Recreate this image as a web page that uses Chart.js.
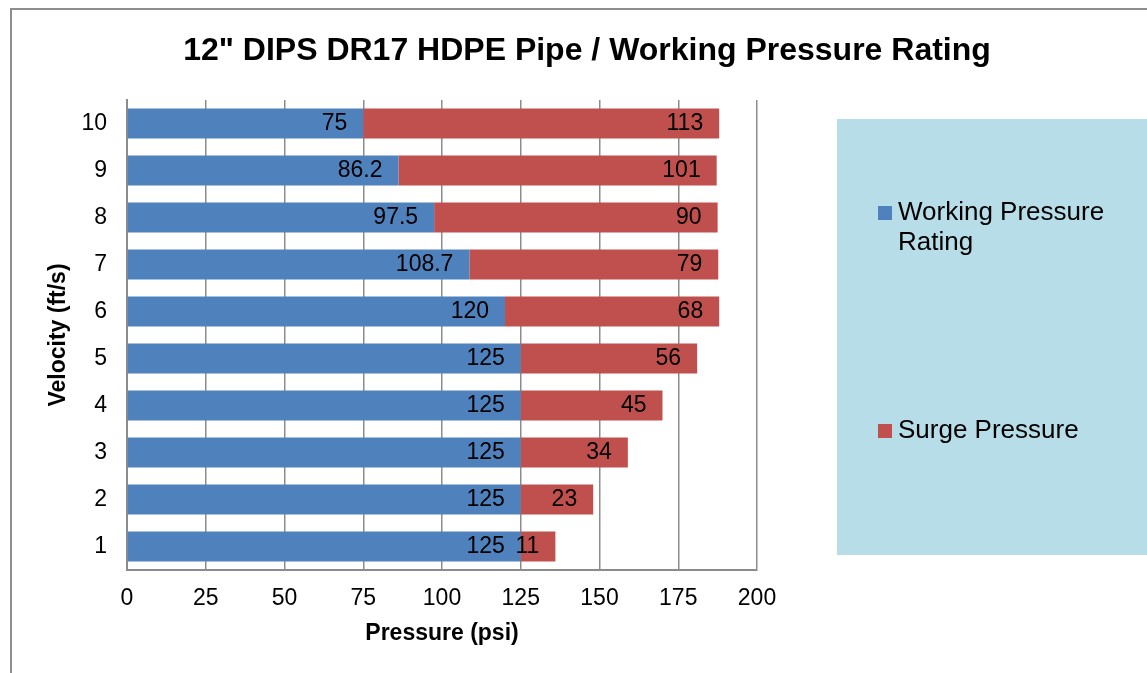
<!DOCTYPE html>
<html>
<head>
<meta charset="utf-8">
<script src="https://cdn.jsdelivr.net/npm/chart.js@4.4.0/dist/chart.umd.min.js"></script>
<style>
  html, body { margin: 0; padding: 0; background: #fff; }
  #wrap { width: 1147px; height: 673px; position: relative; }
</style>
</head>
<body>
<div id="wrap"><canvas id="chart" width="1147" height="673"></canvas></div>
<script>
// ── Data ──────────────────────────────────────────────────────
const velocities = ['1', '2', '3', '4', '5', '6', '7', '8', '9', '10'];
const workingPressure = [125, 125, 125, 125, 125, 120, 108.7, 97.5, 86.2, 75];
const surgePressure   = [11, 23, 34, 45, 56, 68, 79, 90, 101, 113];
const pressureTicks   = [0, 25, 50, 75, 100, 125, 150, 175, 200];

const FONT = "'Liberation Sans', Arial, sans-serif";
const GRID = '#8c8c8c';

// ── Frame, title, legend box ──────────────────────────────────
const decorPlugin = {
  id: 'decor',
  beforeDraw(chart) {
    const ctx = chart.ctx;
    ctx.save();
    ctx.fillStyle = '#fff';
    ctx.fillRect(0, 0, chart.width, chart.height);
    ctx.strokeStyle = '#8e8e8e';
    ctx.lineWidth = 2;
    ctx.beginPath();
    ctx.moveTo(11, chart.height);
    ctx.lineTo(11, 9);
    ctx.lineTo(chart.width, 9);
    ctx.stroke();

    ctx.fillStyle = '#000';
    ctx.font = `bold 32px ${FONT}`;
    ctx.textAlign = 'center';
    ctx.textBaseline = 'alphabetic';
    ctx.fillText('12" DIPS DR17 HDPE Pipe / Working Pressure Rating', 587, 60);
    ctx.restore();
  },
  afterDraw(chart) {
    const ctx = chart.ctx;
    ctx.save();
    ctx.fillStyle = '#b7dde8';
    ctx.fillRect(837, 119, chart.width - 837, 436);

    const rows = [213, 431];
    ctx.font = `26px ${FONT}`;
    ctx.textAlign = 'left';
    ctx.textBaseline = 'middle';
    chart.data.datasets.forEach((ds, i) => {
      const y = rows[i];
      ctx.fillStyle = ds.backgroundColor;
      ctx.fillRect(878, y - 7, 14, 14);
      ctx.fillStyle = '#000';
      // simple word wrap
      const words = ds.label.split(' ');
      let line = '', ly = y;
      for (const w of words) {
        const test = line ? line + ' ' + w : w;
        if (ctx.measureText(test).width > 240 && line) {
          ctx.fillText(line, 898, ly);
          line = w;
          ly += 30;
        } else {
          line = test;
        }
      }
      ctx.fillText(line, 898, ly);
    });
    ctx.restore();
  },
};

// ── Value labels at inside end of each segment ────────────────
const valueLabels = {
  id: 'valueLabels',
  afterDatasetsDraw(chart) {
    const ctx = chart.ctx;
    ctx.save();
    ctx.font = `23px ${FONT}`;
    ctx.fillStyle = '#000';
    ctx.textAlign = 'right';
    ctx.textBaseline = 'middle';
    chart.data.datasets.forEach((ds, i) => {
      chart.getDatasetMeta(i).data.forEach((bar, j) => {
        ctx.fillText(String(ds.data[j]), bar.x - 16, bar.y);
      });
    });
    ctx.restore();
  },
};

new Chart(document.getElementById('chart'), {
  type: 'bar',
  data: {
    labels: velocities,
    datasets: [
      { label: 'Working Pressure Rating', data: workingPressure, backgroundColor: '#4f81bd' },
      { label: 'Surge Pressure', data: surgePressure, backgroundColor: '#c0504d' },
    ],
  },
  options: {
    indexAxis: 'y',
    responsive: false,
    animation: false,
    events: [],
    layout: { padding: { left: 20, top: 100, right: 390, bottom: 10 } },
    datasets: { bar: { categoryPercentage: 1, barPercentage: 0.64 } },
    plugins: {
      legend: { display: false },
      title: { display: false },
      tooltip: { enabled: false },
    },
    scales: {
      x: {
        stacked: true,
        min: 0,
        max: 200,
        afterBuildTicks: (scale) => { scale.ticks = pressureTicks.map(v => ({ value: v })); },
        ticks: { color: '#000', font: { family: FONT, size: 23 }, padding: 15 },
        grid: { color: GRID, lineWidth: 1.5, drawTicks: false },
        border: { display: true, color: GRID, width: 2 },
        title: {
          display: true,
          text: 'Pressure (psi)',
          color: '#000',
          font: { family: FONT, size: 23, weight: 'bold' },
          padding: { top: 0, bottom: 16 },
        },
        afterFit: (scale) => { scale.height = 93; },
      },
      y: {
        stacked: true,
        reverse: true,
        ticks: { color: '#000', font: { family: FONT, size: 23 }, padding: 20 },
        grid: { display: false, drawTicks: false },
        border: { display: true, color: GRID, width: 2 },
        title: {
          display: true,
          text: 'Velocity (ft/s)',
          color: '#000',
          font: { family: FONT, size: 23, weight: 'bold' },
          padding: { top: 25, bottom: 0 },
        },
        afterFit: (scale) => { scale.width = 107; },
      },
    },
  },
  plugins: [decorPlugin, valueLabels],
});
</script>
</body>
</html>
